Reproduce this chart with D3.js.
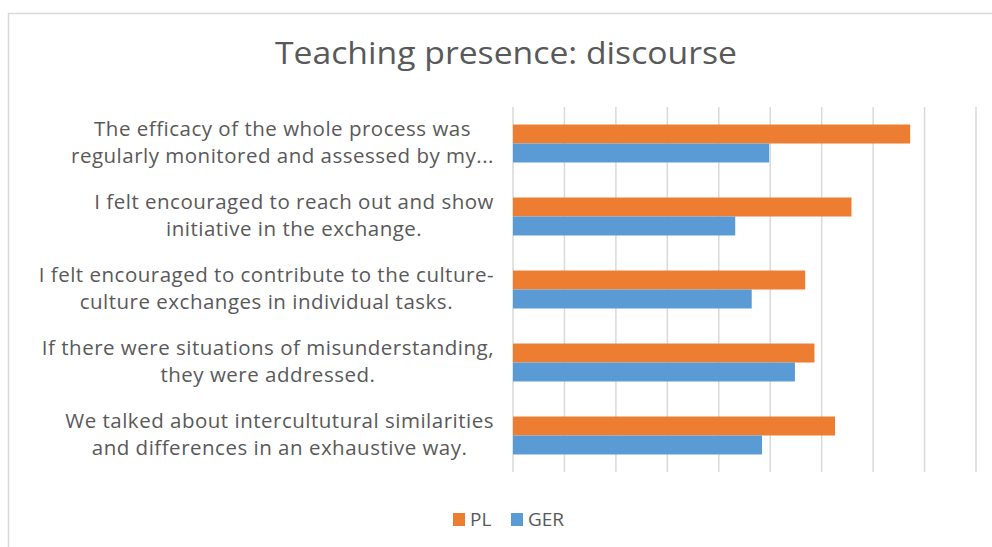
<!DOCTYPE html>
<html>
<head>
<meta charset="utf-8">
<script src="https://cdn.jsdelivr.net/npm/d3@7"></script>
<style>
  html, body { margin: 0; padding: 0; background: #fff; }
  svg { display: block; }
</style>
</head>
<body>
<div id="chart"></div>
<script>
// chart data
const categories = [
    'The efficacy of the whole process was\nregularly monitored and assessed by my...',
    'I felt encouraged to reach out and show\ninitiative in the exchange.',
    'I felt encouraged to contribute to the culture-\nculture exchanges in individual tasks.',
    'If there were situations of misunderstanding,\nthey were addressed.',
    'We talked about intercultutural similarities\nand differences in an exhaustive way.'
];
const seriesNames = ['PL', 'GER'];
const plValues = [3.86, 3.29, 2.84, 2.93, 3.13];
const gerValues = [2.49, 2.16, 2.32, 2.74, 2.42];
const gridTicks = [0, 0.5, 1, 1.5, 2, 2.5, 3, 3.5, 4, 4.5];

const colors = { PL: '#ED7D31', GER: '#5B9BD5' };
const width = 992, height = 547;
const plot = { left: 513, right: 976, top: 107, bottom: 472 };

const svg = d3.select('#chart')
    .append('svg')
    .attr('width', width)
    .attr('height', height);

// outer chart border
svg.append('rect')
    .attr('x', 8.5)
    .attr('y', 13.5)
    .attr('width', width)
    .attr('height', height)
    .attr('fill', 'none')
    .attr('stroke', '#d9d9d9')
    .attr('stroke-width', 1.5);

svg.append('text')
    .attr('x', 506)
    .attr('y', 64)
    .attr('text-anchor', 'middle')
    .attr('font-family', 'Open Sans')
    .attr('font-size', 31)
    .attr('fill', '#595959')
    .attr('textLength', 462)
    .attr('lengthAdjust', 'spacingAndGlyphs')
    .text('Teaching presence: discourse');

const x = d3.scaleLinear()
    .domain([0, 4.5])
    .range([plot.left, plot.right]);

const y = d3.scaleBand()
    .domain(categories)
    .range([plot.top, plot.bottom])
    .paddingInner(0.48)
    .paddingOuter(0.24);

const ySeries = d3.scaleBand()
    .domain(seriesNames)
    .range([0, y.bandwidth()]);

// vertical gridlines
svg.append('g')
    .selectAll('line')
    .data(gridTicks)
    .join('line')
    .attr('x1', d => x(d))
    .attr('x2', d => x(d))
    .attr('y1', plot.top)
    .attr('y2', plot.bottom)
    .attr('stroke', '#d9d9d9')
    .attr('stroke-width', 1.5);

const rows = categories.map((c, i) => ({ cat: c, PL: plValues[i], GER: gerValues[i] }));

const groups = svg.append('g')
    .selectAll('g')
    .data(rows)
    .join('g')
    .attr('transform', d => `translate(0,${y(d.cat)})`);

groups.selectAll('rect')
    .data(d => seriesNames.map(s => ({ s: s, v: d[s] })))
    .join('rect')
    .attr('x', x(0))
    .attr('y', d => ySeries(d.s))
    .attr('width', d => x(d.v) - x(0))
    .attr('height', ySeries.bandwidth())
    .attr('fill', d => colors[d.s]);

// category labels: each line centred, block right-aligned next to the axis
const lineH = 27;
const labels = svg.append('g')
    .attr('font-family', 'Open Sans')
    .attr('font-size', 20.5)
    .attr('letter-spacing', 0.5)
    .attr('fill', '#595959');

categories.forEach(c => {
    const lines = c.split('\n');
    const cy = y(c) + y.bandwidth() / 2;
    const t = labels.append('text')
        .attr('text-anchor', 'middle');
    lines.forEach((ln, j) => {
        t.append('tspan')
            .attr('y', cy + (j - (lines.length - 1) / 2) * lineH + 6)
            .text(ln);
    });
    const maxW = d3.max(t.selectAll('tspan').nodes(), n => n.getComputedTextLength());
    t.selectAll('tspan').attr('x', 494 - maxW / 2);
});

// legend
const legend = svg.append('g')
    .attr('font-family', 'Open Sans')
    .attr('font-size', 19)
    .attr('fill', '#595959');
const legendX = [453, 511];
seriesNames.forEach((s, i) => {
    legend.append('rect')
        .attr('x', legendX[i])
        .attr('y', 513)
        .attr('width', 12)
        .attr('height', 13)
        .attr('fill', colors[s]);
    legend.append('text')
        .attr('x', legendX[i] + 17)
        .attr('y', 526)
        .text(s);
});
</script>
</body>
</html>
